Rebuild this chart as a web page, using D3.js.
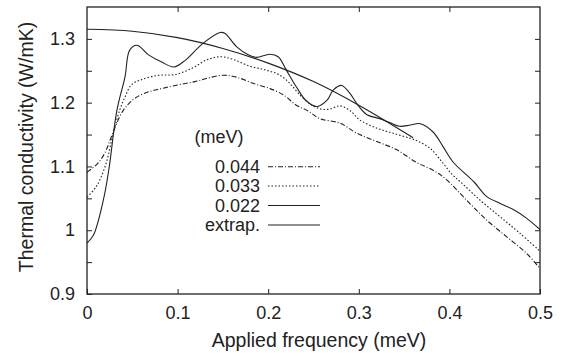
<!DOCTYPE html>
<html><head><meta charset="utf-8">
<script src="https://cdn.jsdelivr.net/npm/d3@7/dist/d3.min.js"></script>
<style>body{margin:0;background:#fff}svg{display:block}text{font-family:"Liberation Sans",Arial,sans-serif;fill:#222}</style>
</head><body><svg id="c" width="569" height="356"></svg>
<script>
const freq044 = [0, 0.012, 0.020, 0.027, 0.040, 0.053, 0.068, 0.082, 0.101, 0.119, 0.132, 0.150, 0.165, 0.184, 0.202, 0.217, 0.231, 0.244, 0.257, 0.279, 0.298, 0.320, 0.342, 0.364, 0.382, 0.397, 0.419, 0.441, 0.463, 0.485, 0.5];
const k044 = [1.091, 1.105, 1.122, 1.147, 1.188, 1.207, 1.217, 1.222, 1.228, 1.233, 1.238, 1.243, 1.240, 1.230, 1.222, 1.212, 1.196, 1.187, 1.175, 1.168, 1.152, 1.139, 1.126, 1.106, 1.094, 1.079, 1.047, 1.016, 0.990, 0.964, 0.940];
const freq033 = [0, 0.010, 0.020, 0.029, 0.036, 0.042, 0.049, 0.060, 0.079, 0.097, 0.116, 0.132, 0.147, 0.161, 0.180, 0.198, 0.213, 0.224, 0.235, 0.246, 0.258, 0.268, 0.279, 0.290, 0.301, 0.320, 0.338, 0.357, 0.366, 0.379, 0.393, 0.404, 0.412, 0.434, 0.456, 0.478, 0.5];
const k033 = [1.052, 1.068, 1.100, 1.152, 1.188, 1.209, 1.228, 1.236, 1.243, 1.244, 1.254, 1.267, 1.272, 1.268, 1.257, 1.251, 1.243, 1.230, 1.212, 1.198, 1.190, 1.190, 1.195, 1.188, 1.173, 1.160, 1.152, 1.144, 1.139, 1.128, 1.105, 1.086, 1.076, 1.047, 1.021, 0.995, 0.967];
const freq022 = [0, 0.007, 0.018, 0.024, 0.033, 0.042, 0.047, 0.055, 0.068, 0.082, 0.096, 0.108, 0.128, 0.147, 0.152, 0.165, 0.178, 0.187, 0.202, 0.211, 0.220, 0.231, 0.242, 0.254, 0.265, 0.272, 0.281, 0.290, 0.299, 0.309, 0.323, 0.334, 0.345, 0.357, 0.368, 0.382, 0.393, 0.404, 0.427, 0.441, 0.456, 0.471, 0.485, 0.5];
const k022 = [0.980, 0.992, 1.047, 1.094, 1.188, 1.241, 1.282, 1.290, 1.275, 1.264, 1.256, 1.266, 1.293, 1.310, 1.309, 1.288, 1.275, 1.271, 1.276, 1.272, 1.251, 1.225, 1.203, 1.194, 1.204, 1.220, 1.227, 1.215, 1.196, 1.181, 1.175, 1.169, 1.163, 1.165, 1.167, 1.154, 1.131, 1.107, 1.076, 1.053, 1.042, 1.032, 1.019, 1.001];
const freqEx = [0, 0.05, 0.1, 0.15, 0.2, 0.25, 0.3, 0.36];
const kEx = [1.315, 1.312, 1.302, 1.285, 1.262, 1.233, 1.196, 1.145];
const legendLabels = ["0.044", "0.033", "0.022", "extrap."];
const xTicks = [0, 0.1, 0.2, 0.3, 0.4, 0.5];
const yTicks = [0.9, 0.95, 1.0, 1.05, 1.1, 1.15, 1.2, 1.25, 1.3, 1.35];
const yLabels = {"0.90":"0.9","1.00":"1","1.10":"1.1","1.20":"1.2","1.30":"1.3"};

const svg = d3.select("#c");
const L = 87, R = 540, T = 7, B = 294;
const x = d3.scaleLinear().domain([0, 0.5]).range([L, R]);
const y = d3.scaleLinear().domain([0.9, 1.35]).range([B, T]);
const ink = "#222";

const fs = 18, fsT = 19.5;
// axes
const ax = svg.append("g").attr("transform", `translate(0,${B})`).call(d3.axisBottom(x).tickValues(xTicks).tickSizeInner(-5).tickSizeOuter(0).tickPadding(12).tickFormat(d3.format("")));
const axT = svg.append("g").attr("transform", `translate(0,${T})`).call(d3.axisTop(x).tickValues(xTicks.slice(1,-1)).tickSizeInner(-5).tickSizeOuter(0).tickFormat(""));
const ay = svg.append("g").attr("transform", `translate(${L},0)`).call(d3.axisLeft(y).tickValues(yTicks.slice(0,-1)).tickSizeInner(-5).tickSizeOuter(0).tickPadding(12).tickFormat(d => yLabels[d.toFixed(2)] || ""));
const ayR = svg.append("g").attr("transform", `translate(${R},0)`).call(d3.axisRight(y).tickValues(yTicks.slice(1,-1)).tickSizeInner(-5).tickSizeOuter(0).tickFormat(""));
[ax, axT, ay, ayR].forEach(g => {
  g.select(".domain").remove();
  g.selectAll("line").attr("stroke", ink).attr("stroke-width", 1);
  g.selectAll("text").style("font-size", fs + "px").attr("fill", ink);
});
ax.selectAll("text").attr("dy", "0.71em");
svg.append("rect").attr("x", L).attr("y", T).attr("width", R - L).attr("height", B - T)
  .attr("fill", "none").attr("stroke", ink).attr("stroke-width", 1.3);

// series
const line = d3.line().x(d => x(d[0])).y(d => y(d[1])).curve(d3.curveCatmullRom);
const series = [
  {f: freq044, k: k044, dash: "5,2,1,2"},
  {f: freq033, k: k033, dash: "1.5,2"},
  {f: freq022, k: k022, dash: null},
  {f: freqEx, k: kEx, dash: null}
];
svg.append("clipPath").attr("id", "cp").append("rect").attr("x", L).attr("y", T).attr("width", R - L).attr("height", B - T);
series.forEach(s => {
  svg.append("path").attr("clip-path", "url(#cp)")
    .attr("d", line(s.f.map((v, i) => [v, s.k[i]])))
    .attr("fill", "none").attr("stroke", ink).attr("stroke-width", 1.1)
    .attr("stroke-dasharray", s.dash);
});

// legend
svg.append("text").attr("x", 219).attr("y", 137).attr("text-anchor", "middle").attr("dy", "0.35em").style("font-size", fs + "px").text("(meV)");
const lys = [166.7, 186, 205.5, 225];
legendLabels.forEach((lab, i) => {
  svg.append("text").attr("x", 260).attr("y", lys[i]).attr("dy", "0.35em").attr("text-anchor", "end").style("font-size", fs + "px").text(lab);
  svg.append("line").attr("x1", 268).attr("x2", 320).attr("y1", lys[i]).attr("y2", lys[i])
    .attr("stroke", ink).attr("stroke-width", 1.1).attr("stroke-dasharray", series[i].dash);
});

// axis titles
svg.append("text").attr("x", 319).attr("y", 347).attr("text-anchor", "middle").style("font-size", fsT + "px").text("Applied frequency (meV)");
svg.append("text").attr("transform", "translate(33,147) rotate(-90)").attr("text-anchor", "middle").style("font-size", fsT + "px").text("Thermal conductivity (W/mK)");
</script></body></html>
